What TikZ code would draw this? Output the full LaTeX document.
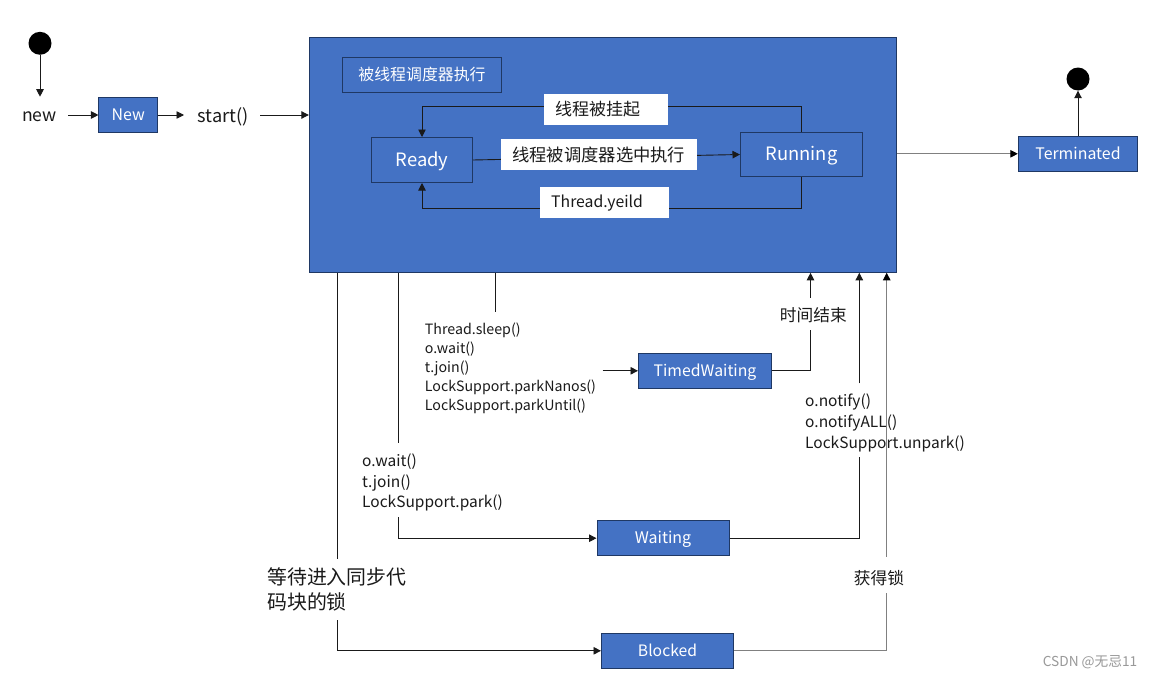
\documentclass[tikz,border=0pt]{standalone}
\usepackage{fontspec}
\setmainfont{Noto Sans CJK SC}
\usetikzlibrary{arrows.meta}
\definecolor{fillblue}{HTML}{4472C4}
\definecolor{edgeblue}{HTML}{1F3864}
\definecolor{ink}{HTML}{1A1A1A}
\definecolor{lgray}{HTML}{808080}
\newcommand{\fsz}[2]{\fontsize{#1}{#2}\selectfont}
\begin{document}
\begin{tikzpicture}[x=1pt,y=-1pt,
  state/.style={draw=edgeblue, fill=fillblue, text=white, line width=1pt, inner sep=0pt, text height=10.5pt, text depth=0pt},
  bigstate/.style={state, text height=12.1pt},
  arr/.style={-{Triangle[length=7.5pt,width=7.5pt]}},
  garr/.style={-{Triangle[length=7.5pt,width=7.5pt,color=black]}},
  conn/.style={draw=ink, line width=0.9pt},
  gconn/.style={draw=lgray, line width=0.9pt},
  wlabel/.style={fill=white, inner xsep=11pt, inner ysep=0pt, align=left, text=ink, anchor=west, minimum height=31pt},
  plain/.style={inner sep=0pt, text=ink},
  dot/.style={circle, fill=black, minimum size=23pt, inner sep=0pt}
]
\useasboundingbox (0,0) rectangle (1153,677);
\fill[white] (0,0) rectangle (1153,677);

% main composite state
\node[draw=edgeblue, fill=fillblue, line width=1pt, inner sep=0pt, minimum width=587pt, minimum height=235pt] (big) at (602.8,154.8) {};
\node[draw=edgeblue, line width=1pt, minimum width=159.4pt, minimum height=35pt, inner sep=0pt, text=white, font=\fsz{15.9}{19}] (title) at (422,74.8) {被线程调度器执行};
\node[bigstate, minimum width=101pt, minimum height=45pt, font=\fsz{18.4}{22}] (ready) at (422,160) {Ready};
\node[bigstate, minimum width=122pt, minimum height=44pt, font=\fsz{18.4}{22}] (running) at (801.5,154.5) {Running};

% other states
\node[state, minimum width=58.7pt, minimum height=35.3pt, font=\fsz{15.9}{19}] (new) at (128.3,115) {New};
\node[state, minimum width=119.4pt, minimum height=35pt, font=\fsz{15.9}{19}] (term) at (1078,153.8) {Terminated};
\node[state, minimum width=133pt, minimum height=35pt, font=\fsz{15.8}{19}] (timed) at (705,370.8) {TimedWaiting};
\node[state, minimum width=132pt, minimum height=35pt, font=\fsz{16}{19}] (waiting) at (663,538.2) {Waiting};
\node[state, minimum width=132pt, minimum height=35pt, font=\fsz{15.7}{19}] (blocked) at (667.5,650.8) {Blocked};

\node[dot] (init) at (40,43.3) {};
\node[dot] (final) at (1078,79) {};

% outside labels
\node[plain, font=\fsz{17.6}{21}] (newlbl) at (39.5,116.7) {new};
\node[plain, font=\fsz{18.2}{22}] (startlbl) at (223.3,116.7) {start()};

% coordinates for free ends
\coordinate (newtop) at (40,96.7);
\coordinate (newout) at (68.3,115);
\coordinate (startin) at (184,115);
\coordinate (startout) at (260,115);

\draw[conn,arr] (init) -- (newtop);
\draw[conn,arr] (newout) -- (new.west);
\draw[conn,arr] (new.east) -- (startin);
\draw[conn,arr] (startout) -- (startout -| big.west);
\draw[gconn,garr] (big.east |- term.west) -- (term.west);
\draw[conn,arr] (term.north) -- (final);

% inner transitions
\draw[conn,arr] (running.north) -- ++(0,-26) -| (ready.north);
\draw[conn,arr] (running.south) -- ++(0,31) -| (ready.south);
\draw[conn,arr] (ready.east) -- (running.west);
\node[wlabel, text width=101.7pt, font=\fsz{17}{20}] (susp) at (544,109.5) {线程被挂起};
\node[wlabel, text width=173.7pt, font=\fsz{17.3}{20}] (sel) at (501,154.5) {线程被调度器选中执行};
\node[wlabel, text width=107pt, font=\fsz{15.8}{19}] (yield) at (540,202.8) {Thread.yeild};

% timed waiting
\coordinate (tsTop) at (495.7,311.7);
\coordinate (tsArr) at (602.7,370.8);
\coordinate (teEnd) at (810.5,330);
\coordinate (teStart) at (810.5,297.7);
\draw[conn] (big.south -| tsTop) -- (tsTop);
\node[plain, anchor=west, align=left, font=\fsz{14.2}{19}] (tslbl) at (424.7,368) {Thread.sleep()\\o.wait()\\t.join()\\LockSupport.parkNanos()\\LockSupport.parkUntil()};
\draw[conn,arr] (tsArr) -- (timed.west);
\draw[conn] (timed.east) -| (teEnd);
\node[plain, font=\fsz{16.7}{20}] (telbl) at (813.3,315) {时间结束};
\draw[conn,arr] (teStart) -- (big.south -| teStart);

% waiting
\coordinate (wTop) at (398.3,442.7);
\coordinate (wBot) at (398.3,517.3);
\coordinate (nBot) at (859.3,457.3);
\coordinate (nTop) at (859.3,383.3);
\draw[conn] (big.south -| wTop) -- (wTop);
\node[plain, anchor=west, align=left, font=\fsz{15.5}{20.8}] (wlbl) at (362,482.5) {o.wait()\\t.join()\\LockSupport.park()};
\draw[conn,arr] (wBot) |- (waiting.west);
\draw[conn] (waiting.east) -| (nBot);
\node[plain, anchor=west, align=left, font=\fsz{15.5}{20.8}] (nlbl) at (805,422.8) {o.notify()\\o.notifyALL()\\LockSupport.unpark()};
\draw[conn,arr] (nTop) -- (big.south -| nTop);

% blocked
\coordinate (bTop) at (337.3,559.3);
\coordinate (bBot) at (337.3,620);
\coordinate (gBot) at (886.7,593.3);
\coordinate (gTop) at (886.7,556.7);
\draw[conn] (big.south -| bTop) -- (bTop);
\node[plain, anchor=west, align=left, font=\fsz{19.9}{25}] (blbl) at (267,589.8) {等待进入同步代\\码块的锁};
\draw[conn,arr] (bBot) |- (blocked.west);
\draw[gconn] (blocked.east) -| (gBot);
\node[plain, font=\fsz{16.7}{20}] (glbl) at (879,578.3) {获得锁};
\draw[gconn,garr] (gTop) -- (big.south -| gTop);

% watermark
\node[inner sep=0pt, text=black!40, font=\fsz{13.7}{16}, anchor=east] (wm) at (1137.5,662) {CSDN @无忌11};
\end{tikzpicture}
\end{document}
